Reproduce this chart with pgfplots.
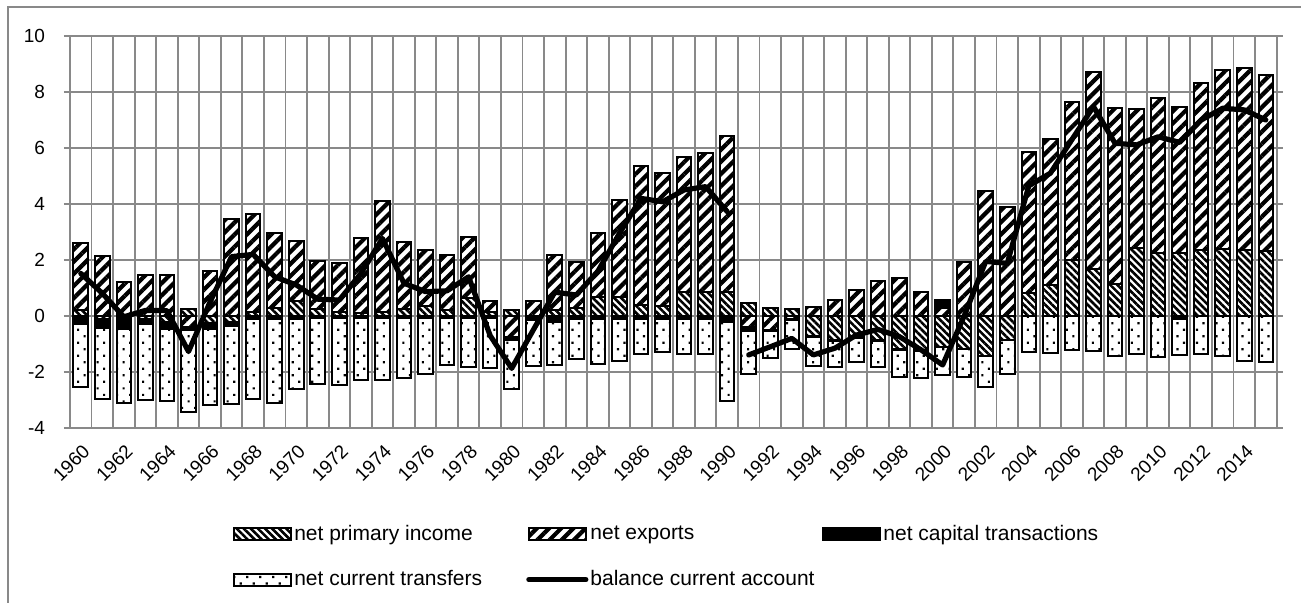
\documentclass[border=0pt]{standalone}
\usepackage{fontspec}
\setmainfont{Liberation Sans}
\usepackage{pgfplots}
\pgfplotsset{compat=1.18}
\usepackage{pgfplotstable}
\usetikzlibrary{patterns.meta}
\definecolor{gridgray}{RGB}{137,137,137}

\pgfplotstableread{
year pi ex ct tr bal
1960 0.20 2.42 -0.28 -2.27 1.52
1961 -0.12 2.14 -0.30 -2.54 0.81
1962 -0.03 1.20 -0.45 -2.64 -0.03
1963 -0.10 1.45 -0.17 -2.72 0.20
1964 -0.20 1.46 -0.25 -2.59 0.19
1965 0.26 -0.40 -0.10 -2.94 -1.27
1966 -0.25 1.61 -0.20 -2.74 0.50
1967 -0.20 3.48 -0.15 -2.78 2.12
1968 0.15 3.48 -0.10 -2.86 2.20
1969 0.27 2.68 -0.10 -3.02 1.40
1970 0.55 2.14 -0.10 -2.52 1.11
1971 0.24 1.74 -0.08 -2.35 0.60
1972 0.15 1.75 -0.08 -2.38 0.57
1973 0.10 2.70 -0.08 -2.21 1.52
1974 0.15 3.96 -0.08 -2.22 2.77
1975 0.24 2.40 -0.08 -2.15 1.17
1976 0.36 2.00 -0.08 -1.99 0.87
1977 0.20 1.98 -0.08 -1.66 0.90
1978 0.63 2.20 -0.08 -1.73 1.40
1979 0.15 0.40 -0.08 -1.78 -0.70
1980 0.20 -0.75 -0.12 -1.75 -1.87
1981 -0.05 0.55 -0.08 -1.66 -0.50
1982 0.20 1.98 -0.20 -1.54 0.85
1983 0.27 1.65 -0.10 -1.42 0.75
1984 0.69 2.26 -0.10 -1.60 1.60
1985 0.69 3.45 -0.10 -1.50 2.95
1986 0.39 4.97 -0.10 -1.26 4.20
1987 0.35 4.75 -0.10 -1.17 4.08
1988 0.87 4.82 -0.10 -1.27 4.50
1989 0.87 4.96 -0.10 -1.27 4.62
1990 0.87 5.57 -0.20 -2.82 3.73
1991 0.45 -0.40 -0.15 -1.52 -1.39
1992 0.27 -0.50 -0.05 -0.96 -1.10
1993 0.25 -0.10 -0.05 -1.03 -0.80
1994 -0.71 0.31 -0.03 -1.05 -1.39
1995 -0.86 0.57 -0.03 -0.92 -1.15
1996 -0.76 0.93 -0.03 -0.86 -0.68
1997 -0.86 1.26 -0.03 -0.92 -0.48
1998 -1.19 1.35 -0.03 -0.95 -0.74
1999 -1.21 0.85 -0.03 -0.96 -1.21
2000 -1.10 0.27 0.30 -1.00 -1.75
2001 -1.19 1.94 0.00 -1.00 0.00
2002 -1.43 4.48 0.00 -1.12 1.95
2003 -0.86 3.90 0.00 -1.21 1.88
2004 0.82 5.05 0.00 -1.27 4.65
2005 1.12 5.20 0.00 -1.31 5.10
2006 2.00 5.65 0.00 -1.20 6.30
2007 1.69 7.01 0.00 -1.24 7.48
2008 1.14 6.30 0.00 -1.43 6.17
2009 2.44 4.96 0.00 -1.36 6.11
2010 2.25 5.55 0.00 -1.47 6.40
2011 2.24 5.21 -0.10 -1.30 6.20
2012 2.35 5.96 0.00 -1.37 7.00
2013 2.40 6.39 0.00 -1.42 7.42
2014 2.36 6.51 0.00 -1.60 7.36
2015 2.33 6.28 0.00 -1.63 7.00
}\datatable

\pgfplotsset{
  base/.style={width=603.3pt, height=196pt, scale only axis, at={(0,0)}, anchor=south west,
    xmin=1959.5, xmax=2015.5, ymin=-4, ymax=10},
  bars/.style={base, ybar stacked, bar width=7.3pt},
  piS/.style={draw=black, line width=1pt, preaction={fill=white}, pattern={Lines[angle=-45,distance=2.5pt,line width=1.3pt]}},
  exS/.style={draw=black, line width=1pt, preaction={fill=white}, pattern={Lines[angle=45,distance=4.3pt,line width=2.1pt]}},
  ctS/.style={draw=black, line width=1pt, fill=black},
  trS/.style={draw=black, line width=1pt, preaction={fill=white}, pattern={Dots[angle=45,distance=4.6pt,radius=0.75pt]}},
  lnS/.style={black, line width=2.6pt, line join=round, line cap=round},
  barleg/.style={legend image code/.code={\draw[##1] (0pt,-3pt) rectangle (28.5pt,3pt);}},
  lineleg/.style={legend image code/.code={\draw[##1] (0pt,0pt) -- (28.5pt,0pt);}},
}

\begin{document}
\begin{tikzpicture}
\useasboundingbox (-35pt,-87.5pt) rectangle (615.5pt,214pt);
\draw[gridgray, line width=0.8pt] (-31pt,-120pt) -- (-31pt,210.5pt) -- (700pt,210.5pt);

\begin{axis}[bars,
  /pgf/number format/assume math mode=true, /pgf/number format/1000 sep={},
  xtick={1960,1962,...,2014},
  minor xtick={1959.5,1960.5,...,2015.5},
  xminorgrids=true, xmajorgrids=false, ymajorgrids=true,
  grid style={gridgray, line width=0.95pt},
  minor grid style={gridgray, line width=0.95pt},
  axis line style={gridgray, line width=0.95pt},
  ytick={-4,-2,...,10},
  tick align=outside,
  major tick length=3pt, minor tick length=0pt,
  xtick style={draw=none},
  ytick style={gridgray, line width=0.95pt},
  tick label style={font=\fontsize{9.5}{11}\selectfont},
  xticklabel style={rotate=45, anchor=north east, xshift=0.5pt, yshift=0pt},
  yticklabel style={xshift=-6pt},
]
\addplot[piS] table[x=year, y expr={max(\thisrow{pi},0)}] {\datatable};
\addplot[exS] table[x=year, y expr={max(\thisrow{ex},0)}] {\datatable};
\addplot[ctS] table[x=year, y expr={max(\thisrow{ct},0)}] {\datatable};
\end{axis}

\begin{axis}[bars, hide axis]
\addplot[piS] table[x=year, y expr={min(\thisrow{pi},0)}] {\datatable};
\addplot[exS] table[x=year, y expr={min(\thisrow{ex},0)}] {\datatable};
\addplot[ctS] table[x=year, y expr={min(\thisrow{ct},0)}] {\datatable};
\addplot[trS] table[x=year, y=tr] {\datatable};
\end{axis}

\begin{axis}[base, hide axis,
  legend columns=3,
  legend style={at={(0.13,-0.232)}, anchor=north west, draw=none, fill=none,
    font=\fontsize{10.5}{12.6}\selectfont, row sep=11.5pt,
    nodes={inner sep=1pt}},
  legend cell align=left,
]
\addlegendimage{piS, barleg}
\addlegendentry{\makebox[115pt][l]{net primary income}}
\addlegendimage{exS, barleg}
\addlegendentry{\makebox[115pt][l]{net exports}}
\addlegendimage{ctS, barleg}
\addlegendentry{net capital transactions}
\addlegendimage{trS, barleg}
\addlegendentry{\makebox[115pt][l]{net current transfers}}
\addplot[lnS, lineleg, restrict x to domain=1959:1990.5] table[x=year, y=bal] {\datatable};
\addlegendentry{balance current account}
\addplot[lnS, forget plot, restrict x to domain=1990.5:2016] table[x=year, y=bal] {\datatable};
\end{axis}
\end{tikzpicture}
\end{document}
